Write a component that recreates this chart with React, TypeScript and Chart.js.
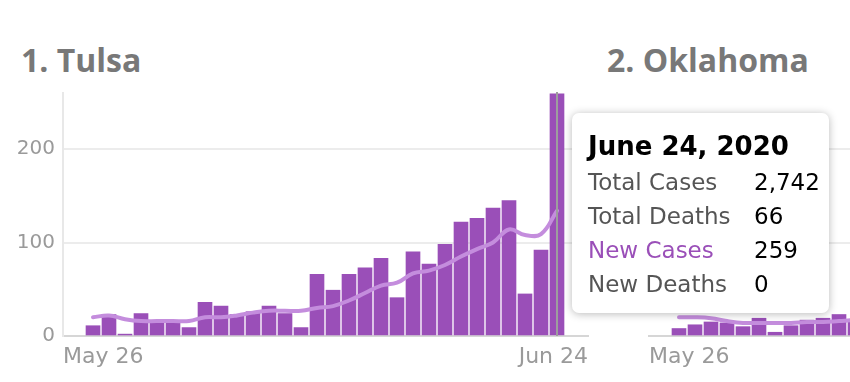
import React, { useEffect, useRef } from "react";
import { Chart, registerables } from "chart.js";

Chart.register(...registerables);

// ---- data ----
const dates = [
  "May 26", "May 27", "May 28", "May 29", "May 30", "May 31",
  "Jun 1", "Jun 2", "Jun 3", "Jun 4", "Jun 5", "Jun 6", "Jun 7", "Jun 8",
  "Jun 9", "Jun 10", "Jun 11", "Jun 12", "Jun 13", "Jun 14", "Jun 15",
  "Jun 16", "Jun 17", "Jun 18", "Jun 19", "Jun 20", "Jun 21", "Jun 22",
  "Jun 23", "Jun 24",
];
const xTickLabels = ["May 26", "Jun 24"];
const yTicks = [0, 100, 200];
const yMax = 260;

const tulsaNewCases = [
  11, 23, 2, 24, 15, 15, 9, 36, 32, 23, 26, 32, 24, 9, 66,
  49, 66, 73, 83, 41, 90, 77, 98, 122, 126, 137, 145, 45, 92, 259,
];
const tulsaAverage = [
  20, 22, 18, 16, 16, 16, 16, 20, 20, 22, 25, 27, 27, 27, 30,
  32, 38, 46, 54, 57, 67, 70, 76, 85, 93, 100, 114, 108, 109, 134,
];
const oklahomaNewCases = [
  8, 12, 15, 14, 10, 19, 4, 11, 17, 19, 23, 17, 20, 26, 15,
  30, 28, 35, 41, 22, 38, 45, 52, 47, 60, 58, 32, 66, 72, 85,
];
const oklahomaAverage = [
  20, 20, 19, 16, 14, 14, 14, 14, 15, 15, 16, 17, 17, 18, 19,
  20, 21, 23, 26, 28, 30, 33, 36, 38, 42, 46, 45, 50, 55, 60,
];

const tooltipTitle = "June 24, 2020";
const tooltipLabels = ["Total Cases", "Total Deaths", "New Cases", "New Deaths"];
const tooltipValues = ["2,742", "66", "259", "0"];
const hoverIndex = 29;

// ---- styles ----
const BAR = "#9a4fb8";
const LINE = "#c48ddd";
const TICK = "#9a9a9a";

function makeConfig(newCases: number[], avg: number[], first: boolean, hover: number | null) {
  const hoverPlugin = {
    id: "hoverLine",
    afterDatasetsDraw(chart: any) {
      if (hover === null) return;
      const { ctx, chartArea, scales } = chart;
      const x = scales.x.getPixelForValue(hover);
      ctx.save();
      ctx.strokeStyle = "#9e9e9e";
      ctx.lineWidth = 2;
      ctx.beginPath();
      ctx.moveTo(x, chartArea.top - 1);
      ctx.lineTo(x, chartArea.bottom);
      ctx.stroke();
      ctx.restore();
    },
  };
  return {
    type: "bar" as const,
    data: {
      labels: dates,
      datasets: [
        {
          type: "line" as const,
          label: "Average",
          data: avg.map((v, i) => ({ x: i, y: v })),
          borderColor: LINE,
          borderWidth: 4,
          tension: 0.4,
          pointRadius: 0,
          fill: false,
          borderCapStyle: "round" as const,
          order: 0,
        },
        {
          type: "bar" as const,
          label: "New Cases",
          data: newCases.map((v, i) => ({ x: i, y: v })),
          backgroundColor: BAR,
          barThickness: 14,
          order: 1,
        },
      ],
    },
    options: {
      responsive: false,
      maintainAspectRatio: false,
      animation: false as const,
      events: [],
      layout: { padding: { top: 5, right: 4, left: 0, bottom: 0 } },
      plugins: { legend: { display: false }, tooltip: { enabled: false } },
      scales: {
        x: {
          type: "linear" as const,
          min: -1.875,
          max: 30.9375,
          offset: false,
          afterBuildTicks: (s: any) => {
            s.ticks = [{ value: s.min }, { value: s.max }];
          },
          afterFit: (s: any) => {
            s.height = 40;
            s.paddingLeft = 0;
            s.paddingRight = 0;
          },
          grid: { display: false, drawTicks: false },
          border: { display: true, color: "#d6d6d6", width: 2 },
          ticks: {
            autoSkip: false,
            maxRotation: 0,
            align: "inner" as const,
            padding: 8,
            color: TICK,
            font: { family: "'DejaVu Sans', sans-serif", size: 22 },
            callback: (_v: any, i: number) => xTickLabels[i],
          },
        },
        y: {
          min: 0,
          max: yMax,
          afterBuildTicks: (s: any) => {
            s.ticks = yTicks.map((v) => ({ value: v }));
          },
          afterFit: (s: any) => {
            s.width = 63;
            s.paddingTop = 0;
            s.paddingBottom = 0;
          },
          grid: { color: "#ececec", lineWidth: 2, drawTicks: false },
          border: { display: first, color: "#e8e8e8", width: 2 },
          ticks: {
            display: first,
            padding: 8,
            color: TICK,
            font: { family: "'DejaVu Sans', sans-serif", size: 20 },
          },
        },
      },
    },
    plugins: [hoverPlugin],
  };
}

function Panel({ left, newCases, avg, first, hover }: any) {
  const ref = useRef<HTMLCanvasElement>(null);
  useEffect(() => {
    if (!ref.current) return;
    const chart = new Chart(ref.current, makeConfig(newCases, avg, first, hover) as any);
    return () => chart.destroy();
  }, []);
  return (
    <canvas
      ref={ref}
      width={592}
      height={288}
      style={{ position: "absolute", left, top: 88, width: 592, height: 288 }}
    />
  );
}

export default function App() {
  useEffect(() => {
    document.body.style.margin = "0";
    document.body.style.overflow = "hidden";
  }, []);
  const titleStyle: React.CSSProperties = {
    position: "absolute",
    top: 40,
    fontFamily: "'Open Sans', sans-serif",
    fontWeight: 700,
    fontSize: 32,
    lineHeight: "40px",
    color: "#787878",
    whiteSpace: "nowrap",
  };
  return (
    <div style={{ position: "relative", width: 850, height: 382, overflow: "hidden", background: "#fff" }}>
      <div style={{ ...titleStyle, left: 21 }}>1. Tulsa</div>
      <div style={{ ...titleStyle, left: 607 }}>2. Oklahoma</div>
      <Panel left={0} newCases={tulsaNewCases} avg={tulsaAverage} first={true} hover={hoverIndex} />
      <Panel left={586} newCases={oklahomaNewCases} avg={oklahomaAverage} first={false} hover={null} />
      <div
        style={{
          position: "absolute",
          left: 572,
          top: 113,
          width: 257,
          height: 200,
          boxSizing: "border-box",
          padding: "18px 0 0 16px",
          background: "#fff",
          borderRadius: 7,
          boxShadow: "0 1px 8px rgba(0,0,0,0.28)",
          fontFamily: "'DejaVu Sans', sans-serif",
          zIndex: 2,
        }}
      >
        <div style={{ fontWeight: 700, fontSize: 26, lineHeight: "30px", color: "#000", whiteSpace: "nowrap" }}>
          {tooltipTitle}
        </div>
        <div style={{ marginTop: 4 }}>
          {tooltipLabels.map((label, i) => (
            <div key={label} style={{ display: "flex", fontSize: 23, lineHeight: "34px", whiteSpace: "nowrap" }}>
              <div style={{ width: 166, color: label === "New Cases" ? BAR : "#555" }}>{label}</div>
              <div style={{ color: "#000" }}>
                {label === "New Cases" ? tulsaNewCases[hoverIndex].toString() : tooltipValues[i]}
              </div>
            </div>
          ))}
        </div>
      </div>
    </div>
  );
}
